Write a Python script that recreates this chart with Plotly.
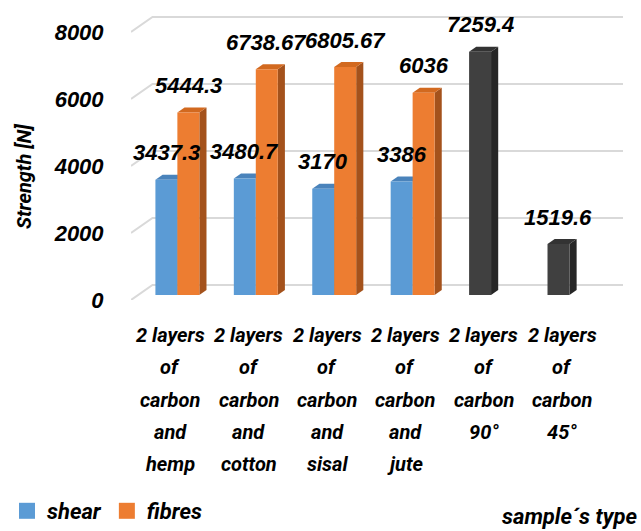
import plotly.graph_objects as go

# ---- data ---------------------------------------------------------------
categories = [
    ["2 layers", "of", "carbon", "and", "hemp"],
    ["2 layers", "of", "carbon", "and", "cotton"],
    ["2 layers", "of", "carbon", "and", "sisal"],
    ["2 layers", "of", "carbon", "and", "jute"],
    ["2 layers", "of", "carbon", "90°"],
    ["2 layers", "of", "carbon", "45°"],
]
shear = [3437.3, 3480.7, 3170, 3386, 7259.4, 1519.6]
fibres = [5444.3, 6738.67, 6805.67, 6036, None, None]
y_ticks = [0, 2000, 4000, 6000, 8000]

# ---- styling ------------------------------------------------------------
TEXT_FONT = "Roboto, Lato, sans-serif"
NUM_FONT = "Liberation Sans, Arial, sans-serif"
TEXT_WEIGHT = "bold"

BLUE = ("#5b9bd5", "#41719c", "#4a83bb")      # front, side, top
ORANGE = ("#ed7d31", "#a4521c", "#d2691f")
DARK = ("#404040", "#262626", "#333333")
shear_style = [BLUE, BLUE, BLUE, BLUE, DARK, DARK]
fibres_style = [ORANGE] * len(categories)

W, H = 641, 531
ML, MR, MT, MB = 131, 18, 10, 231
PLOT_W, PLOT_H = W - ML - MR, H - MT - MB

# oblique projection of the 3-D box: full floor depth in axis units
DEPTH_X = 0.274
DEPTH_Y = 448
BAR_W = 0.28
bar_dx, bar_dy = DEPTH_X / 3, DEPTH_Y / 3     # front face of the bars
side_dx, side_dy = DEPTH_X / 3, DEPTH_Y / 3   # thickness of the bars

X_MIN = -0.5
X_MAX = len(categories) - 0.5 + DEPTH_X
Y_MAX = 8657


def paper_y(px):
    """Page pixel row -> paper y coordinate."""
    return (H - MB - px) / PLOT_H


def paper_x(px):
    return (px - ML) / PLOT_W


shapes = []
# back wall gridlines with their slanted side-wall segment
for v in y_ticks:
    shapes.append(dict(
        type="path", xref="x", yref="y", layer="below",
        path=f"M{X_MIN},{v} L{X_MIN + DEPTH_X},{v + DEPTH_Y} L{X_MAX},{v + DEPTH_Y}",
        line=dict(color="#d9d9d9", width=2),
    ))


def box_faces(x_left, value, style):
    """Side and top faces of one 3-D column."""
    x_right = x_left + BAR_W
    y0 = bar_dy
    y1 = bar_dy + value
    side = (f"M{x_right},{y0} L{x_right + side_dx},{y0 + side_dy} "
            f"L{x_right + side_dx},{y1 + side_dy} L{x_right},{y1} Z")
    top = (f"M{x_left},{y1} L{x_right},{y1} L{x_right + side_dx},{y1 + side_dy} "
           f"L{x_left + side_dx},{y1 + side_dy} Z")
    return [
        dict(type="path", xref="x", yref="y", layer="between", path=side,
             fillcolor=style[1], line=dict(width=0)),
        dict(type="path", xref="x", yref="y", layer="between", path=top,
             fillcolor=style[2], line=dict(width=0)),
    ]


annotations = []
label_font = dict(family=NUM_FONT, size=22, color="black", weight="bold", style="italic")
text_font = dict(family=TEXT_FONT, size=20, color="black", weight=TEXT_WEIGHT, style="italic")

for i in range(len(categories)):
    for values, styles, left in ((shear, shear_style, -BAR_W), (fibres, fibres_style, 0.0)):
        v = values[i]
        if v is None:
            continue
        x_left = i + bar_dx + left
        shapes.extend(box_faces(x_left, v, styles[i]))
        annotations.append(dict(
            x=x_left + BAR_W / 2, y=bar_dy + v, xref="x", yref="y",
            text=f"{v:g}", showarrow=False, yshift=27,
            xanchor="center", yanchor="middle", font=label_font,
        ))

# category labels, one line at a time (Excel-style wide line spacing)
LINE_TOP, LINE_STEP = 335, 32.3
for i, lines in enumerate(categories):
    for k, line in enumerate(lines):
        annotations.append(dict(
            x=i, y=paper_y(LINE_TOP + k * LINE_STEP), xref="x", yref="paper",
            text=line, showarrow=False, xanchor="center", yanchor="middle",
            font=text_font,
        ))

fig = go.Figure()

fig.add_trace(go.Bar(
    x=[i + bar_dx for i in range(len(categories))], y=shear, base=bar_dy,
    offset=-BAR_W, width=BAR_W,
    marker=dict(color=[s[0] for s in shear_style], line=dict(width=0)),
    showlegend=False, hoverinfo="skip",
))
fig.add_trace(go.Bar(
    x=[i + bar_dx for i in range(len(categories))], y=fibres, base=bar_dy,
    offset=0, width=BAR_W,
    marker=dict(color=[s[0] for s in fibres_style], line=dict(width=0)),
    showlegend=False, hoverinfo="skip",
))

# legend entries
for name, color in (("shear", BLUE[0]), ("fibres", ORANGE[0])):
    fig.add_trace(go.Scatter(
        x=[None], y=[None], mode="markers", name=name,
        marker=dict(symbol="square", size=16, color=color),
    ))

annotations.append(dict(
    text="Strength [N]", textangle=-90, showarrow=False,
    xref="paper", yref="paper", x=paper_x(24), y=paper_y(177),
    xanchor="center", yanchor="middle",
    font=dict(family=TEXT_FONT, size=20, color="black", weight=TEXT_WEIGHT, style="italic"),
))
annotations.append(dict(
    text="sample´s type", showarrow=False,
    xref="paper", yref="paper", x=paper_x(639), y=paper_y(516),
    xanchor="right", yanchor="middle",
    font=dict(family=TEXT_FONT, size=22, color="black", weight=TEXT_WEIGHT, style="italic"),
))

fig.update_layout(
    width=W, height=H,
    margin=dict(l=ML, r=MR, t=MT, b=MB),
    paper_bgcolor="white", plot_bgcolor="white",
    barmode="overlay",
    shapes=shapes, annotations=annotations,
    legend=dict(
        orientation="h", xref="container", yref="container",
        x=7 / W, y=1 - 511 / H, xanchor="left", yanchor="middle",
        font=dict(family=TEXT_FONT, size=22, color="black", weight=TEXT_WEIGHT, style="italic"),
        itemwidth=30, tracegroupgap=0,
    ),
    xaxis=dict(
        range=[X_MIN, X_MAX], tickvals=list(range(len(categories))),
        showticklabels=False,
        showgrid=False, zeroline=False, showline=False,
    ),
    yaxis=dict(
        range=[0, Y_MAX], tickvals=y_ticks, ticktext=[str(t) for t in y_ticks],
        showgrid=False, zeroline=False, showline=False,
        ticks="outside", ticklen=22, tickcolor="rgba(0,0,0,0)",
        tickfont=dict(family=NUM_FONT, size=22, color="black", weight="bold", style="italic"),
    ),
)

fig.write_html("out.html")
